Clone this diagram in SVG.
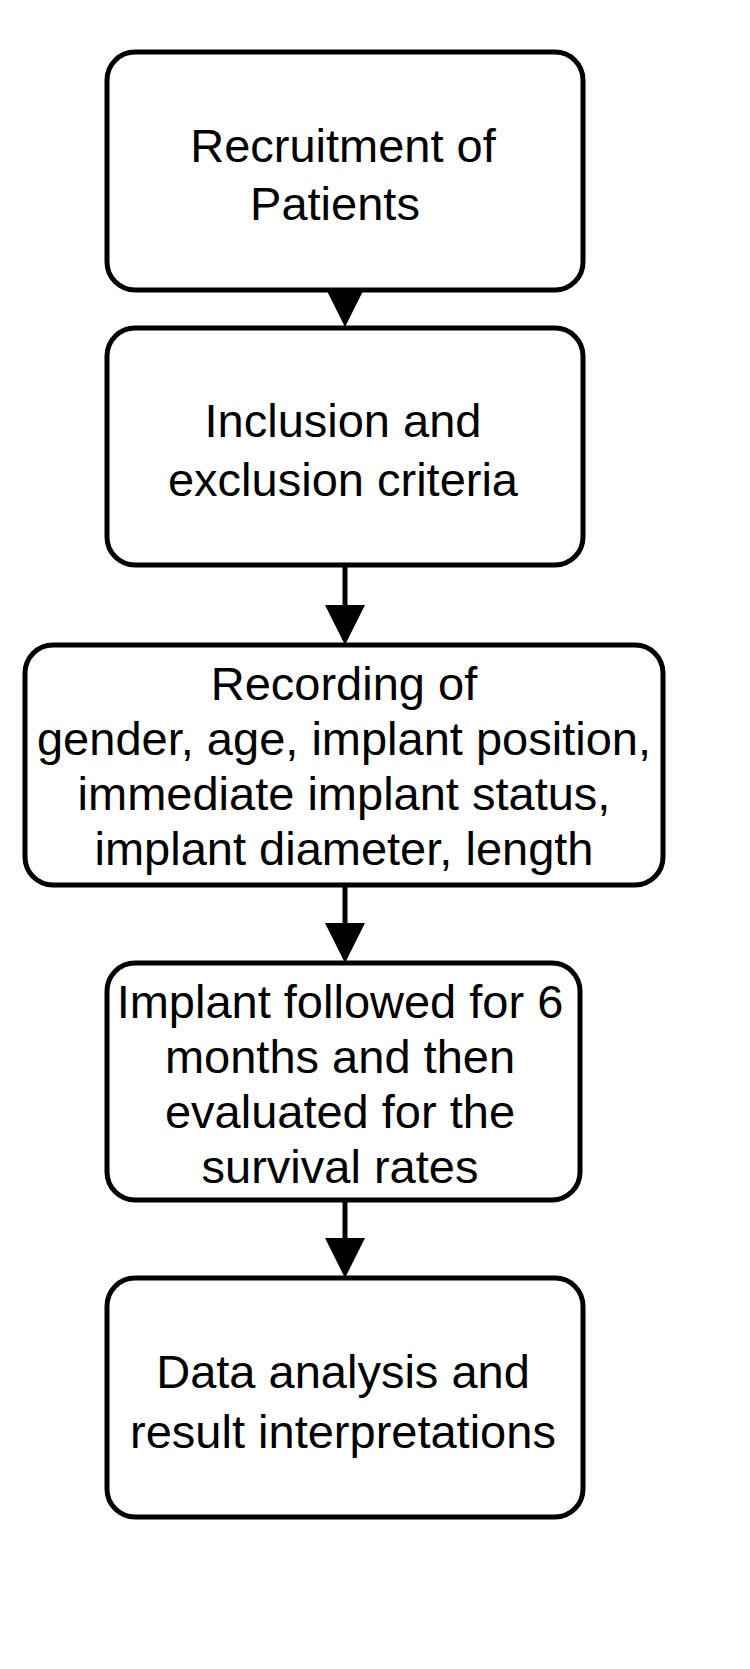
<svg xmlns="http://www.w3.org/2000/svg" width="750" height="1669" viewBox="0 0 750 1669">
<style>
.b{fill:#fff;stroke:#000;stroke-width:5}
.t{font-family:"Liberation Sans",Arial,sans-serif;font-size:47px;text-anchor:middle;fill:#000}
.c{stroke:#000;stroke-width:5;fill:none}
</style>
<defs><marker id="a" markerWidth="8" markerHeight="8" refX="7" refY="4" orient="auto" markerUnits="strokeWidth"><path d="M0,0L8,4L0,8z" fill="#000"/></marker></defs>
<rect width="750" height="1669" fill="#fff"/>
<g id="connectors">
<line class="c" x1="345" y1="290" x2="345" y2="322" marker-end="url(#a)"/>
<line class="c" x1="345" y1="565" x2="345" y2="640" marker-end="url(#a)"/>
<line class="c" x1="345" y1="885" x2="345" y2="958" marker-end="url(#a)"/>
<line class="c" x1="345" y1="1200" x2="345" y2="1273" marker-end="url(#a)"/>
</g>
<g id="n1"><rect class="b" x="107" y="52" width="476" height="238" rx="28"/><text class="t" x="343" y="162">Recruitment of</text><text class="t" x="335" y="220">Patients</text></g>
<g id="n2"><rect class="b" x="107" y="328" width="476" height="237" rx="28"/><text class="t" x="343" y="437">Inclusion and</text><text class="t" x="343" y="496">exclusion criteria</text></g>
<g id="n3"><rect class="b" x="25" y="645" width="638" height="240" rx="28"/><text class="t" x="344" y="700">Recording of</text><text class="t" x="344" y="755">gender, age, implant position,</text><text class="t" x="344" y="810">immediate implant status,</text><text class="t" x="344" y="865">implant diameter, length</text></g>
<g id="n4"><rect class="b" x="107" y="963" width="473" height="237" rx="28"/><text class="t" x="340" y="1018">Implant followed for 6</text><text class="t" x="340" y="1073">months and then</text><text class="t" x="340" y="1128">evaluated for the</text><text class="t" x="340" y="1183">survival rates</text></g>
<g id="n5"><rect class="b" x="107" y="1278" width="476" height="239" rx="28"/><text class="t" x="343" y="1388">Data analysis and</text><text class="t" x="343" y="1448">result interpretations</text></g>
</svg>
